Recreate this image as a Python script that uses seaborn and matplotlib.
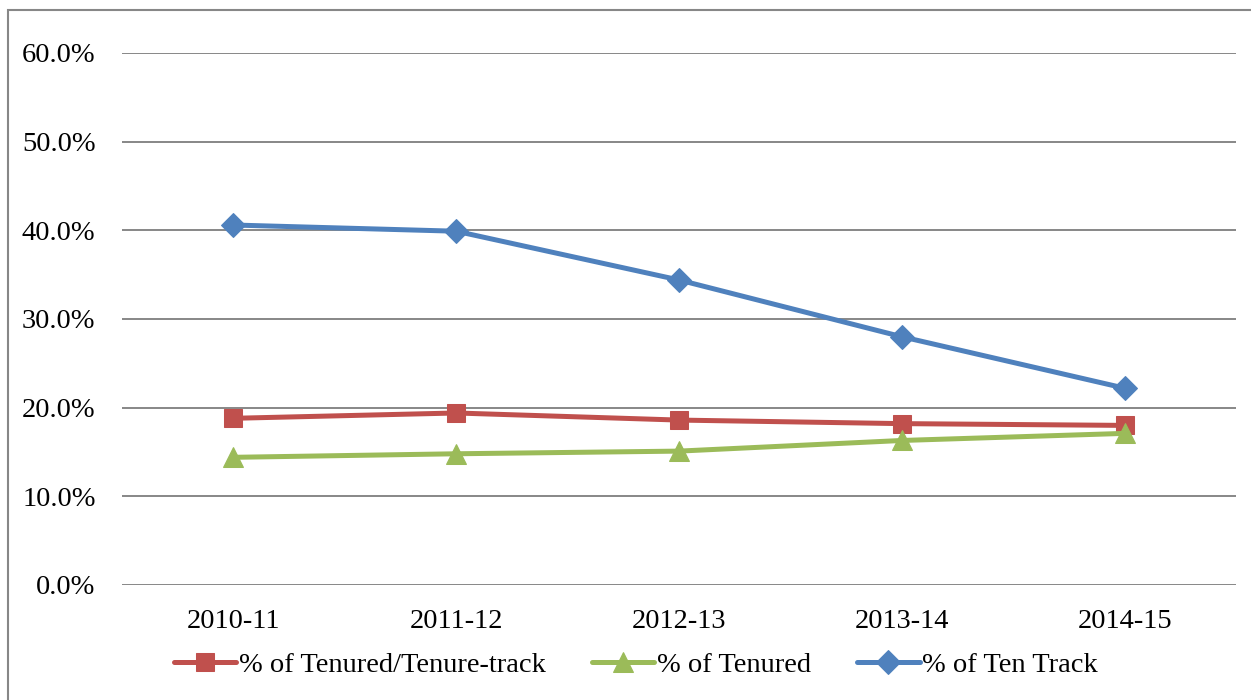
import numpy as np
import pandas as pd
import matplotlib
matplotlib.use("Agg")
import matplotlib.pyplot as plt
from matplotlib.patches import Rectangle
from matplotlib.ticker import PercentFormatter
import seaborn as sns

years = ["2010-11", "2011-12", "2012-13", "2013-14", "2014-15"]
tenured_or_track = [18.8, 19.4, 18.6, 18.2, 18.0]
tenured = [14.4, 14.8, 15.1, 16.3, 17.1]
ten_track = [40.6, 39.9, 34.4, 28.0, 22.2]

series_names = ["% of Tenured/Tenure-track", "% of Tenured", "% of Ten Track"]
colors = ["#C0504D", "#9BBB59", "#4F81BD"]
markers = ["s", "^", "D"]
sizes = [13, 14, 12]

df = pd.DataFrame({
    "year": years * 3,
    "value": tenured_or_track + tenured + ten_track,
    "series": np.repeat(series_names, len(years)),
})
df["x"] = np.tile(np.arange(len(years)), 3)

sns.set_style("white")
plt.rcParams["font.family"] = ["Liberation Serif", "DejaVu Serif"]
plt.rcParams["text.color"] = "black"
plt.rcParams["xtick.color"] = "black"
plt.rcParams["ytick.color"] = "black"
fs = 20.5

fig = plt.figure(figsize=(12.51, 7.0), dpi=100)
ax = fig.add_axes([122 / 1251, 1 - 585 / 700, (1236 - 122) / 1251, (585 - 53) / 700])

for name, c, m, s in zip(series_names, colors, markers, sizes):
    sub = df[df["series"] == name]
    sns.lineplot(data=sub, x="x", y="value", ax=ax, color=c, marker=m,
                 markersize=s, markeredgecolor=c, linewidth=3.6, label=name,
                 legend=False)

ax.set_xlim(-0.5, len(years) - 0.5)
ax.set_ylim(0, 60)
ax.set_yticks(np.arange(0, 61, 10))
ax.yaxis.set_major_formatter(PercentFormatter(decimals=1))
ax.set_xticks(range(len(years)))
ax.set_xticklabels(years)
ax.grid(axis="y", color="#878787", linewidth=1.4)
ax.set_axisbelow(True)
for sp in ax.spines.values():
    sp.set_visible(False)
ax.tick_params(axis="y", length=0, pad=19, labelsize=fs)
ax.tick_params(axis="x", length=0, pad=17, labelsize=fs)
ax.set_xlabel("")
ax.set_ylabel("")

handles, labels = ax.get_legend_handles_labels()
fig.legend(handles, labels, loc="center", bbox_to_anchor=(636 / 1251, 1 - 665 / 700),
           ncol=3, frameon=False, fontsize=fs, handlelength=2.2,
           handletextpad=0.1, columnspacing=1.6)

fig.add_artist(Rectangle((8 / 1251, -0.05), 1.2, 1.05 - 10 / 700,
                         transform=fig.transFigure, fill=False,
                         edgecolor="#878787", linewidth=1.5, clip_on=False))

fig.savefig("out.png", dpi=100)
